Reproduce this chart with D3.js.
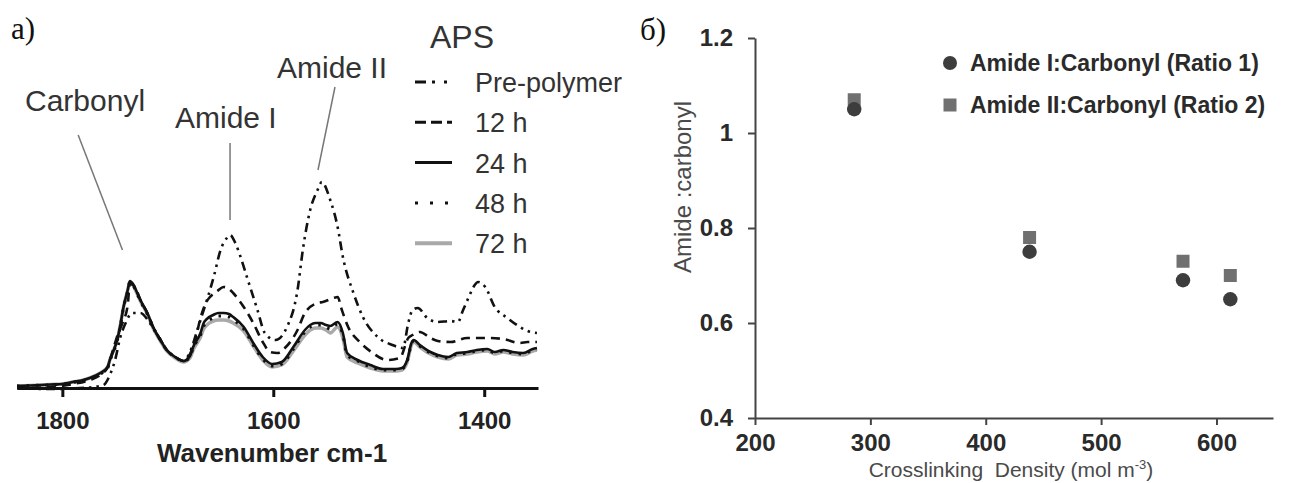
<!DOCTYPE html>
<html><head><meta charset="utf-8">
<script src="https://cdn.jsdelivr.net/npm/d3@7"></script>
<style>
body{margin:0;background:#fff}
svg{display:block}
text{font-family:"Liberation Sans", Arial, sans-serif}
</style>
</head><body><script>
// ---------- Panel a: FTIR spectra (wavenumber cm-1, absorbance a.u.) ----------
const spectrumTicks = [1800, 1600, 1400];
const seriesNames = ["Pre-polymer", "12 h", "24 h", "48 h", "72 h"];

const prePolymer = [[1843,0.00],[1811,-0.01],[1783,0.00],[1771,0.01],[1761,0.03],[1755,0.13],[1750,0.28],[1745,0.51],[1740,0.65],[1734,0.75],[1726,0.75],[1719,0.68],[1714,0.60],[1707,0.48],[1701,0.38],[1693,0.31],[1685,0.27],[1679,0.36],[1672,0.58],[1666,0.78],[1662,0.91],[1656,1.13],[1650,1.38],[1644,1.50],[1641,1.53],[1636,1.45],[1631,1.31],[1625,1.11],[1615,0.78],[1608,0.55],[1598,0.48],[1587,0.61],[1577,0.98],[1572,1.38],[1565,1.78],[1558,1.98],[1554,2.06],[1546,1.88],[1539,1.61],[1534,1.31],[1524,0.95],[1515,0.71],[1501,0.51],[1487,0.43],[1477,0.40],[1472,0.65],[1468,0.78],[1463,0.80],[1454,0.70],[1444,0.66],[1432,0.67],[1425,0.66],[1420,0.78],[1415,0.90],[1409,1.03],[1406,1.06],[1399,1.01],[1390,0.81],[1378,0.70],[1369,0.63],[1359,0.57],[1350,0.55]];

const h12 = [[1843,0.00],[1811,0.01],[1790,0.04],[1774,0.08],[1764,0.13],[1757,0.21],[1752,0.38],[1747,0.55],[1743,0.65],[1738,0.83],[1736,1.04],[1733,1.03],[1729,0.96],[1726,0.88],[1719,0.74],[1714,0.61],[1707,0.48],[1701,0.38],[1693,0.31],[1685,0.27],[1679,0.34],[1674,0.48],[1669,0.70],[1664,0.85],[1660,0.91],[1653,0.97],[1647,1.01],[1642,0.99],[1638,0.95],[1628,0.81],[1619,0.65],[1610,0.46],[1603,0.36],[1596,0.35],[1589,0.40],[1577,0.58],[1570,0.75],[1558,0.85],[1553,0.86],[1543,0.90],[1539,0.91],[1535,0.78],[1529,0.61],[1518,0.46],[1507,0.36],[1492,0.28],[1480,0.30],[1472,0.50],[1468,0.53],[1461,0.56],[1451,0.50],[1444,0.47],[1432,0.46],[1416,0.50],[1397,0.50],[1382,0.49],[1366,0.45],[1359,0.46],[1350,0.46]];

const h24 = [[1843,0.02],[1830,0.025],[1811,0.035],[1800,0.04],[1790,0.06],[1780,0.08],[1774,0.10],[1764,0.15],[1757,0.21],[1755,0.28],[1752,0.36],[1748,0.48],[1745,0.63],[1742,0.81],[1738,0.98],[1736,1.07],[1733,1.04],[1729,0.95],[1726,0.88],[1719,0.74],[1714,0.61],[1707,0.48],[1701,0.38],[1693,0.31],[1685,0.27],[1679,0.32],[1676,0.41],[1669,0.55],[1666,0.65],[1663,0.69],[1657,0.73],[1652,0.75],[1647,0.75],[1642,0.74],[1638,0.71],[1628,0.61],[1619,0.45],[1610,0.31],[1601,0.24],[1592,0.26],[1581,0.41],[1570,0.58],[1565,0.63],[1560,0.65],[1555,0.65],[1550,0.63],[1546,0.62],[1539,0.66],[1534,0.55],[1530,0.35],[1520,0.28],[1508,0.23],[1496,0.19],[1484,0.19],[1478,0.20],[1473,0.28],[1469,0.45],[1467,0.48],[1461,0.43],[1451,0.36],[1444,0.33],[1434,0.31],[1426,0.35],[1416,0.36],[1407,0.38],[1397,0.39],[1390,0.36],[1382,0.38],[1373,0.36],[1363,0.35],[1354,0.39],[1350,0.40]];

const h48 = [[1843,0.02],[1830,0.025],[1811,0.03],[1800,0.04],[1790,0.055],[1780,0.075],[1774,0.095],[1764,0.14],[1757,0.20],[1755,0.27],[1752,0.35],[1748,0.47],[1745,0.62],[1742,0.80],[1738,0.97],[1736,1.06],[1733,1.03],[1729,0.94],[1726,0.87],[1719,0.73],[1714,0.61],[1707,0.48],[1701,0.38],[1693,0.31],[1685,0.27],[1679,0.31],[1676,0.40],[1669,0.53],[1666,0.62],[1663,0.66],[1657,0.70],[1652,0.72],[1647,0.72],[1642,0.71],[1638,0.68],[1628,0.59],[1619,0.43],[1610,0.29],[1601,0.22],[1592,0.24],[1581,0.39],[1570,0.56],[1565,0.61],[1560,0.63],[1555,0.63],[1550,0.61],[1546,0.59],[1539,0.64],[1534,0.53],[1530,0.33],[1520,0.27],[1508,0.21],[1496,0.18],[1484,0.18],[1478,0.19],[1473,0.27],[1469,0.44],[1467,0.47],[1461,0.42],[1451,0.35],[1444,0.32],[1434,0.30],[1426,0.34],[1416,0.35],[1407,0.37],[1397,0.38],[1390,0.35],[1382,0.37],[1373,0.35],[1363,0.34],[1354,0.38],[1350,0.39]];

const h72 = [[1843,0.02],[1830,0.025],[1811,0.035],[1800,0.04],[1790,0.06],[1780,0.08],[1774,0.10],[1764,0.15],[1757,0.21],[1755,0.28],[1752,0.36],[1748,0.48],[1745,0.63],[1742,0.81],[1738,0.98],[1736,1.06],[1733,1.03],[1729,0.94],[1726,0.87],[1719,0.73],[1714,0.60],[1707,0.47],[1701,0.37],[1693,0.30],[1685,0.26],[1679,0.30],[1676,0.38],[1669,0.51],[1666,0.59],[1663,0.63],[1657,0.67],[1652,0.68],[1647,0.68],[1642,0.67],[1638,0.65],[1628,0.57],[1619,0.42],[1610,0.28],[1601,0.21],[1592,0.23],[1581,0.37],[1570,0.53],[1565,0.58],[1560,0.60],[1555,0.60],[1550,0.58],[1546,0.55],[1539,0.61],[1534,0.50],[1530,0.31],[1520,0.25],[1508,0.20],[1496,0.17],[1484,0.17],[1478,0.18],[1473,0.26],[1469,0.43],[1467,0.46],[1461,0.41],[1451,0.34],[1444,0.31],[1434,0.29],[1426,0.33],[1416,0.34],[1407,0.36],[1397,0.37],[1390,0.34],[1382,0.36],[1373,0.34],[1363,0.33],[1354,0.37],[1350,0.38]];

// peak label leader lines in data coordinates [wavenumber, absorbance]
const peakLabels = ["Carbonyl", "Amide I", "Amide II"];
const leaderLines = [
  [[1785, 2.53], [1743, 1.38]],
  [[1641, 2.45], [1641, 1.68]],
  [[1541.5, 3.01], [1557.6, 2.18]]
];

// ---------- Panel b: ratios vs crosslinking density ----------
const density = [286, 438, 571, 612];
const ratio1 = [1.05, 0.75, 0.69, 0.65];   // Amide I:Carbonyl
const ratio2 = [1.07, 0.78, 0.73, 0.70];   // Amide II:Carbonyl
const ratioTicksY = [0.4, 0.6, 0.8, 1, 1.2];
const densityTicks = [200, 300, 400, 500, 600];
const ratioNames = ["Amide I:Carbonyl (Ratio 1)", "Amide II:Carbonyl (Ratio 2)"];

// ================= drawing =================
const svg = d3.select("body").append("svg").attr("width", 1293).attr("height", 483);

// ---- panel a ----
const xA = d3.scaleLinear().domain([1843, 1349]).range([17, 538]);
const yA = d3.scaleLinear().domain([0, 1]).range([388, 288]);

const styles = {
  "Pre-polymer": {data: prePolymer, stroke: "#111", width: 2.6, dash: "9,5,2.5,5,2.5,5"},
  "12 h": {data: h12, stroke: "#111", width: 2.6, dash: "9,6"},
  "24 h": {data: h24, stroke: "#111", width: 2.6, dash: null},
  "48 h": {data: h48, stroke: "#111", width: 3, dash: "2.5,7"},
  "72 h": {data: h72, stroke: "#a9a9a9", width: 3.5, dash: null}
};

const line = d3.line().x(d => xA(d[0])).y(d => yA(d[1])).curve(d3.curveMonotoneX);
const gA = svg.append("g");
["72 h", "48 h", "24 h", "12 h", "Pre-polymer"].forEach(name => {
  const s = styles[name];
  gA.append("path").datum(s.data).attr("d", line)
    .attr("fill", "none").attr("stroke", s.stroke).attr("stroke-width", s.width)
    .attr("stroke-dasharray", s.dash).attr("stroke-linejoin", "round");
});

const axA = gA.append("g").attr("transform", `translate(0,${yA(0)})`)
  .call(d3.axisBottom(xA).tickValues(spectrumTicks).tickSize(9).tickSizeOuter(0).tickPadding(15).tickFormat(d3.format("d")));
axA.select(".domain").attr("stroke", "#111").attr("stroke-width", 3);
axA.selectAll(".tick line").attr("stroke", "#111").attr("stroke-width", 3);
axA.selectAll(".tick text").attr("font-size", 24).attr("font-weight", "bold").attr("fill", "#222")
  .style("font-family", '"Liberation Sans", Arial, sans-serif');

gA.append("text").attr("x", 272).attr("y", 462).attr("text-anchor", "middle")
  .attr("font-size", 26).attr("font-weight", "bold").attr("fill", "#222").text("Wavenumber cm-1");

// leader lines + peak labels
gA.selectAll(".leader").data(leaderLines).join("line").attr("class", "leader")
  .attr("x1", d => xA(d[0][0])).attr("y1", d => yA(d[0][1]))
  .attr("x2", d => xA(d[1][0])).attr("y2", d => yA(d[1][1]))
  .attr("stroke", "#777").attr("stroke-width", 1.5);
const labelPos = [[25, 111], [175, 128], [277, 78]];
peakLabels.forEach((t, i) => {
  gA.append("text").attr("x", labelPos[i][0]).attr("y", labelPos[i][1])
    .attr("font-size", 30).attr("fill", "#333").text(t);
});

// panel letter
svg.append("text").attr("x", 11).attr("y", 39).attr("font-size", 31)
  .style("font-family", '"Liberation Serif", "Times New Roman", serif').attr("fill", "#111").text("a)");

// legend a
gA.append("text").attr("x", 430).attr("y", 48).attr("font-size", 32).attr("fill", "#333").text("APS");
seriesNames.forEach((name, i) => {
  const s = styles[name];
  const yb = 92 + i * 40.3;
  gA.append("line").attr("x1", 415).attr("x2", 452).attr("y1", yb - 10).attr("y2", yb - 10)
    .attr("stroke", s.stroke).attr("stroke-width", name === "72 h" ? 4 : 3)
    .attr("stroke-dasharray", name === "Pre-polymer" ? "11,6,3,9,3,20" : name === "12 h" ? "11,5" : name === "48 h" ? "3,12" : null);
  gA.append("text").attr("x", 475).attr("y", yb).attr("font-size", 27).attr("fill", "#333").text(name);
});

// ---- panel b ----
const xB = d3.scaleLinear().domain([200, 649]).range([755, 1273]);
const yB = d3.scaleLinear().domain([0.4, 1.2]).range([418, 38]);
const gB = svg.append("g");

const axBx = gB.append("g").attr("transform", `translate(0,${yB(0.4)})`)
  .call(d3.axisBottom(xB).tickValues(densityTicks).tickSize(7).tickSizeOuter(0).tickPadding(9).tickFormat(d3.format("d")));
const axBy = gB.append("g").attr("transform", `translate(${xB(200)},0)`)
  .call(d3.axisLeft(yB).tickValues(ratioTicksY).tickSize(7).tickSizeOuter(0).tickPadding(15).tickFormat(d => String(d)));
[axBx, axBy].forEach(ax => {
  ax.select(".domain").attr("stroke", "#444").attr("stroke-width", 2);
  ax.selectAll(".tick line").attr("stroke", "#444").attr("stroke-width", 2);
  ax.selectAll(".tick text").attr("font-size", 24).attr("font-weight", "bold").attr("fill", "#2a2a2a")
    .style("font-family", '"Liberation Sans", Arial, sans-serif');
});

// axis titles
const xt = gB.append("text").attr("x", 1011).attr("y", 477).attr("text-anchor", "middle")
  .attr("font-size", 21).attr("fill", "#4a4a4a").style("white-space", "pre");
xt.append("tspan").text("Crosslinking  Density (mol m");
xt.append("tspan").attr("font-size", 13).attr("dy", -8).text("-3");
xt.append("tspan").attr("dy", 8).text(")");
gB.append("text").attr("transform", "translate(691,187) rotate(-90)").attr("text-anchor", "middle")
  .attr("font-size", 24).attr("fill", "#4a4a4a").text("Amide :carbonyl");

svg.append("text").attr("x", 640).attr("y", 40).attr("font-size", 31)
  .style("font-family", '"Liberation Serif", "Times New Roman", serif').attr("fill", "#111").text("б)");

// points
const sq = 13;
gB.selectAll(".sq").data(density).join("rect").attr("class", "sq")
  .attr("x", (d) => xB(d) - sq / 2).attr("y", (d, i) => yB(ratio2[i]) - sq / 2)
  .attr("width", sq).attr("height", sq).attr("fill", "#707070");
gB.selectAll(".ci").data(density).join("circle").attr("class", "ci")
  .attr("cx", d => xB(d)).attr("cy", (d, i) => yB(ratio1[i])).attr("r", 7.2).attr("fill", "#3d3d3d");

// legend b
gB.append("circle").attr("cx", 950).attr("cy", 63).attr("r", 7).attr("fill", "#3d3d3d");
gB.append("rect").attr("x", 950 - 6.5).attr("y", 105 - 6.5).attr("width", 13).attr("height", 13).attr("fill", "#707070");
ratioNames.forEach((t, i) => {
  gB.append("text").attr("x", 970).attr("y", 71 + i * 42).attr("font-size", 23)
    .attr("font-weight", "bold").attr("fill", "#2a2a2a").text(t);
});
</script></body></html>
